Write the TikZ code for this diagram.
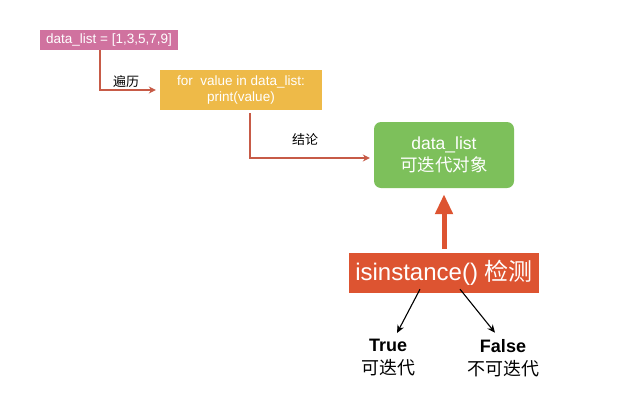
\documentclass[tikz,border=0pt]{standalone}
\usepackage{fontspec}
\setmainfont{Liberation Sans}
\newfontfamily\cjk{Noto Sans CJK SC}
\usepackage{tikz}
\usetikzlibrary{arrows.meta,positioning}
\definecolor{pinkbox}{RGB}{208,114,159}
\definecolor{yellowbox}{RGB}{238,186,72}
\definecolor{greenbox}{RGB}{125,192,91}
\definecolor{redbox}{RGB}{221,84,49}
\definecolor{linkred}{RGB}{199,91,71}
\tikzset{
  box/.style={text=white,inner sep=0pt,align=center},
  link/.style={linkred,line width=1.2pt,-{Stealth[length=7pt,width=7pt]},shorten >=4pt},
  branch/.style={black,line width=1.1pt,-{Stealth[length=8pt,width=7pt]}}
}

\begin{document}
\begin{tikzpicture}[x=1pt,y=-1pt]
            \useasboundingbox (0,0) rectangle (631,402);
            \node[box,fill=pinkbox,minimum width=138pt,minimum height=20pt,font=\fontsize{13.5}{15}\selectfont] (list) at (109,40) {data\_list = [1,3,5,7,9]};
            \node[box,fill=yellowbox,minimum width=162pt,minimum height=40pt,font=\fontsize{13.5}{16}\selectfont] (loop) at (241,90) {for\ \ value in data\_list:\\print(value)};
            \node[box,fill=greenbox,rounded corners=7pt,minimum width=140pt,minimum height=66pt,font=\fontsize{17.5}{22}\selectfont] (iter) at (444,155) {data\_list\\{\cjk 可迭代对象}};
            \node[box,fill=redbox,minimum width=190pt,minimum height=40pt,font=\fontsize{24}{28}\selectfont] (check) at (444,273) {isinstance() {\cjk 检测}};
            % labels on the links
            \node[font=\cjk\fontsize{13}{15}\selectfont] (walk) at (126,82) {遍历};
            \node[font=\cjk\fontsize{13}{15}\selectfont] (result) at (305,140) {结论};
            % outcomes
            \node[align=center,font=\fontsize{18}{23}\selectfont] (yes) at (388,358) {\textbf{True}\\{\cjk 可迭代}};
            \node[align=center,font=\fontsize{18}{23}\selectfont] (no) at (503,358) {\textbf{False}\\{\cjk 不可迭代}};
            \draw[link] ([xshift=-9pt]list.south) |- (loop.west);
            \draw[link] ([xshift=9pt,yshift=-3pt]loop.south) |- ([yshift=-3pt]iter.west);
            \draw[redbox,line width=5pt,-{Triangle[length=20pt,width=17pt]},shorten <=4pt,shorten >=6pt] (check.north) -- (iter.south);
            \draw[branch] ([xshift=-24pt,yshift=4pt]check.south) -- ([xshift=9pt,yshift=3pt]yes.north);
            \draw[branch] ([xshift=16pt,yshift=4pt]check.south) -- ([xshift=-8pt,yshift=3pt]no.north);
      \end{tikzpicture}
\end{document}
